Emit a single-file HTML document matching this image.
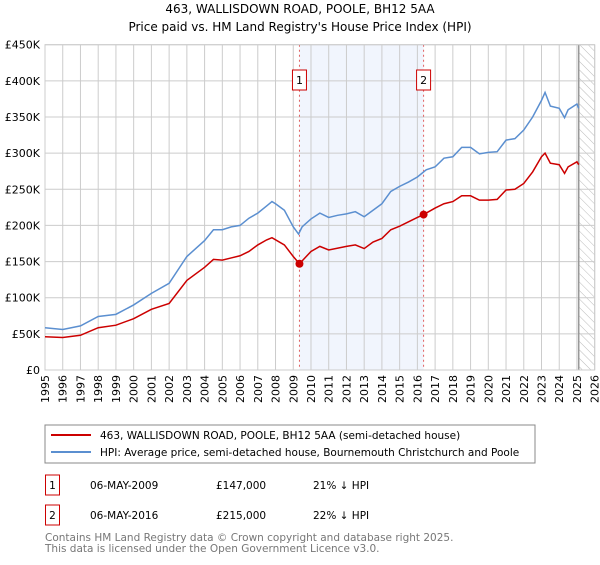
<!DOCTYPE html>
<html><head><meta charset="utf-8"><style>
body{margin:0;background:#fff;font-family:"Liberation Sans","DejaVu Sans",sans-serif;}
</style></head><body>
<svg width="600" height="560" xmlns="http://www.w3.org/2000/svg" style="font-family:'DejaVu Sans','Liberation Sans',sans-serif">
<defs><pattern id="hatch" width="6" height="6" patternUnits="userSpaceOnUse" patternTransform="rotate(-45)"><line x1="0" y1="0" x2="0" y2="6" stroke="#bbb" stroke-width="1"/></pattern></defs>
<text x="300" y="13" text-anchor="middle" font-size="12">463, WALLISDOWN ROAD, POOLE, BH12 5AA</text>
<text x="300" y="31" text-anchor="middle" font-size="12">Price paid vs. HM Land Registry's House Price Index (HPI)</text>
<g id="plot"></g>
<g>
<rect x="45" y="425" width="490" height="38" fill="#fff" stroke="#888"/>
<line x1="51" y1="435" x2="91" y2="435" stroke="#cc0000" stroke-width="2"/>
<text x="100" y="439" font-size="10.5">463, WALLISDOWN ROAD, POOLE, BH12 5AA (semi-detached house)</text>
<line x1="51" y1="452" x2="91" y2="452" stroke="#5b8fd0" stroke-width="2"/>
<text x="100" y="456" font-size="10.5">HPI: Average price, semi-detached house, Bournemouth Christchurch and Poole</text>
</g>
<g font-size="10.5">
<rect x="45.5" y="475" width="14" height="20" fill="#fff" stroke="#cc0000"/><text x="52.5" y="489" text-anchor="middle">1</text>
<text x="90" y="489">06-MAY-2009</text><text x="216" y="489">£147,000</text><text x="313" y="489">21% ↓ HPI</text>
<rect x="45.5" y="505" width="14" height="20" fill="#fff" stroke="#cc0000"/><text x="52.5" y="519" text-anchor="middle">2</text>
<text x="90" y="519">06-MAY-2016</text><text x="216" y="519">£215,000</text><text x="313" y="519">22% ↓ HPI</text>
</g>
<text x="45" y="541" font-size="10.5" fill="#777">Contains HM Land Registry data © Crown copyright and database right 2025.</text>
<text x="45" y="552" font-size="10.5" fill="#777">This data is licensed under the Open Government Licence v3.0.</text>
</svg>
<script>
const yTicks=[0,50,100,150,200,250,300,350,400,450];
const yLabels=["£0","£50K","£100K","£150K","£200K","£250K","£300K","£350K","£400K","£450K"];
const years=[1995,1996,1997,1998,1999,2000,2001,2002,2003,2004,2005,2006,2007,2008,2009,2010,2011,2012,2013,2014,2015,2016,2017,2018,2019,2020,2021,2022,2023,2024,2025,2026];
const hpiT=[1995,1996,1997,1998,1999,2000,2001,2002,2003,2004,2004.5,2005,2005.5,2006,2006.5,2007,2007.5,2007.8,2008,2008.5,2009,2009.3,2009.5,2010,2010.5,2011,2011.5,2012,2012.5,2013,2013.5,2014,2014.5,2015,2015.5,2016,2016.5,2017,2017.5,2018,2018.5,2019,2019.5,2020,2020.5,2021,2021.5,2022,2022.5,2023,2023.2,2023.5,2024,2024.3,2024.5,2025,2025.1];
const hpiV=[58.5,56,61,74,77,90,106,120,157,179,194,194,198,200,210,217,227,233,230,221,198,188,198,209,217,211,214,216,219,212,221,230,247,254,260,267,277,281,293,295,308,308,299,301,302,318,320,332,350,373,384,365,362,349,360,368,362];
const ppT=[1995,1996,1997,1998,1999,2000,2001,2002,2003,2004,2004.5,2005,2005.5,2006,2006.5,2007,2007.5,2007.8,2008.5,2009,2009.35,2010,2010.5,2011,2012,2012.5,2013,2013.5,2014,2014.5,2015,2015.5,2016,2016.35,2017,2017.5,2018,2018.5,2019,2019.5,2020,2020.5,2021,2021.5,2022,2022.5,2023,2023.2,2023.5,2024,2024.3,2024.5,2025,2025.1];
const ppV=[46,45,48,58.5,62,71,84,92,124,142,153,152,155,158,164,173,180,183,173,157,147,164,171,166,171,173,168,177,182,194,199,205,211,215,224,230,233,241,241,235,235,236,249,250,258,274,295,300,286,284,272,281,288,284];
const saleT=[2009.35,2016.35];
const saleV=[147,215];
const saleLabels=["1","2"];
const X0=45,X1=594.7,Y0=370,Y1=44.7;
const xs=t=>X0+(t-1995)/(2026-1995)*(X1-X0);
const ys=v=>Y0-v/450*(Y0-Y1);
const NS="http://www.w3.org/2000/svg";
const g=document.getElementById('plot');
function mk(tag,a,parent){const e=document.createElementNS(NS,tag);for(const k in a)e.setAttribute(k,a[k]);(parent||g).appendChild(e);return e;}
let e;
e=mk('rect',{x:xs(saleT[0]),y:Y1,width:xs(saleT[1])-xs(saleT[0]),height:Y0-Y1,fill:'#eef3fc',opacity:0.8});


e=mk('rect',{x:xs(2025.1),y:Y1,width:X1-xs(2025.1),height:Y0-Y1,fill:'url(#hatch)'});


yTicks.forEach((v,i)=>{
 e=mk('line',{x1:X0,x2:X1,y1:ys(v),y2:ys(v),stroke:'#ccc'});
 
 
 e=mk('text',{x:X0-5,y:ys(v)+4,'text-anchor':'end','font-size':11});
 e.textContent=yLabels[i];
 
 
});
years.forEach(y=>{
 e=mk('line',{x1:xs(y),x2:xs(y),y1:Y1,y2:Y0,stroke:'#ccc'});
 
 
 e=mk('text',{transform:`translate(${xs(y)+4},${Y0+5}) rotate(-90)`,'text-anchor':'end','font-size':11});
 e.textContent=y;
 
 
});
e=mk('line',{x1:xs(2025.1),x2:xs(2025.1),y1:Y1,y2:Y0,stroke:'#999','stroke-width':1.5});


saleT.forEach((t,i)=>{
 e=mk('line',{x1:xs(t),x2:xs(t),y1:Y1,y2:Y0,stroke:'#e06060','stroke-dasharray':'2,3'});
 
 
 e=mk('rect',{x:xs(t)-7,y:70,width:14,height:20,fill:'#fff',stroke:'#cc0000'});
 
 
 e=mk('text',{x:xs(t),y:84,'text-anchor':'middle','font-size':11});
 e.textContent=saleLabels[i];
 
 
});
e=mk('rect',{x:X0,y:Y1,width:X1-X0,height:Y0-Y1,fill:'none',stroke:'#ccc'});


e=mk('polyline',{points:hpiT.map((t,i)=>xs(t)+','+ys(hpiV[i])).join(' '),fill:'none',stroke:'#5b8fd0','stroke-width':1.5});


e=mk('polyline',{points:ppT.map((t,i)=>xs(t)+','+ys(ppV[i])).join(' '),fill:'none',stroke:'#cc0000','stroke-width':1.5});


saleT.forEach((t,i)=>{
 e=mk('circle',{cx:xs(t),cy:ys(saleV[i]),r:4,fill:'#cc0000'});
 
 
});
</script>
</body></html>
